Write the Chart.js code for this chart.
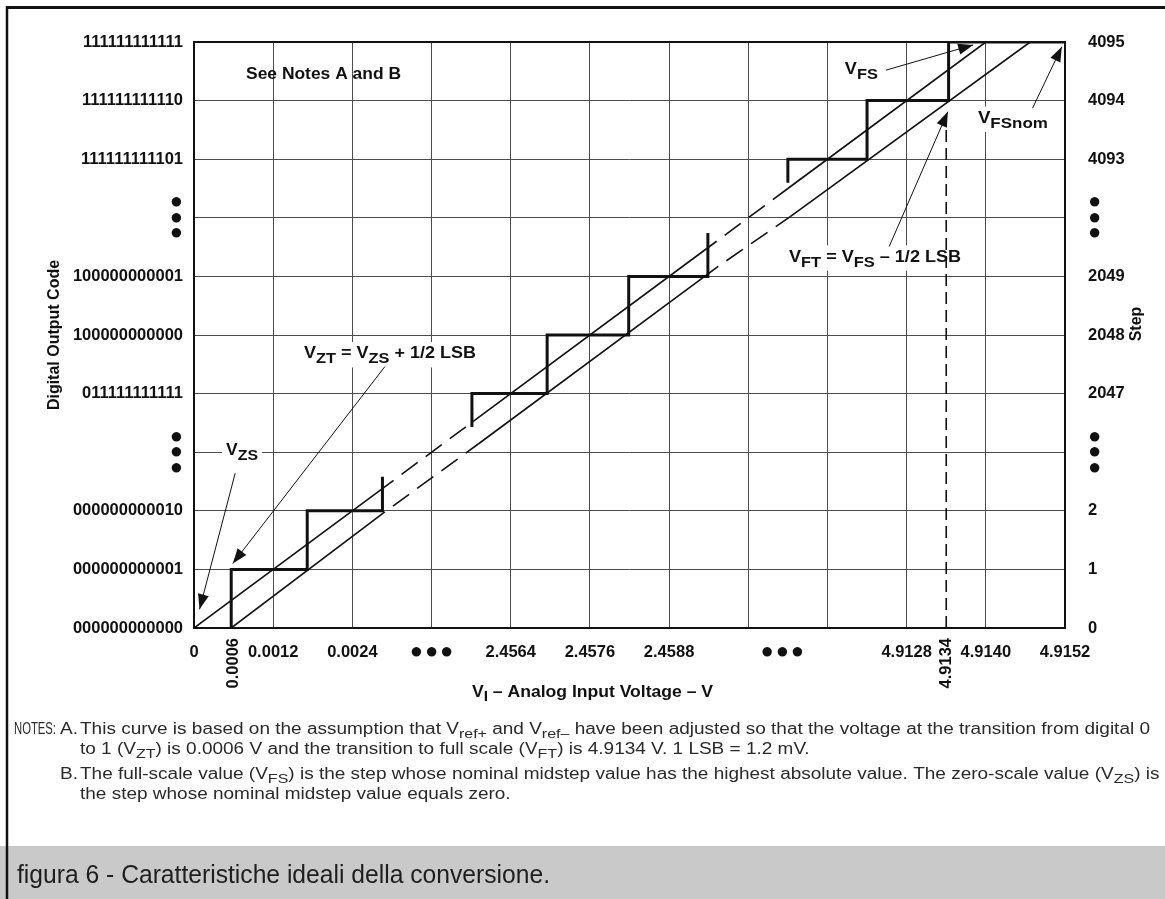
<!DOCTYPE html>
<html>
<head>
<meta charset="utf-8">
<script src="https://cdn.jsdelivr.net/npm/chart.js@4.4.1/dist/chart.umd.min.js"></script>
<style>
html,body{margin:0;padding:0;background:#fff;overflow:hidden}
#box{position:absolute;left:0;top:0;width:1165px;height:899px}
</style>
</head>
<body>
<div id="box"><canvas id="grafico"></canvas></div>
<script>
// tick labels
const dots = ['●','●','●'];
const codeLabels = ['000000000000','000000000001','000000000010',dots,'011111111111','100000000000','100000000001',dots,'111111111101','111111111110','111111111111'];
const stepLabels = ['0','1','2',dots,'2047','2048','2049',dots,'4093','4094','4095'];
const voltLabels = ['0','0.0012','0.0024','●\u200A●\u200A●','2.4564','2.4576','2.4588','','','4.9128','4.9140','4.9152'];
const voltRotLabels = ['0.0006','4.9134'];
const voltRotAt = [0.5, 9.5];

// staircase (grid units: 1 LSB across, 1 code up)
const stairLowX = [0.47,0.47,1.43,1.43,2.38,2.38];
const stairLowY = [0,1,1,2,2,2.58];
const stairMidX = [3.51,3.51,4.46,4.46,5.49,5.49,6.49,6.49];
const stairMidY = [3.43,4,4,5,5,6,6,6.74];
const stairTopX = [7.5,7.5,8.5,8.5,9.53,9.53,11];
const stairTopY = [7.6,8,8,9,9,10,10];

// ideal line and the line shifted by 1/2 LSB, 1 = dashed piece
const idealX = [0,2.52,3.5,6.6,7.5,10];
const idealY = [0,2.52,3.5,6.6,7.5,10];
const idealDash = [0,1,0,1,0];
const shiftX = [0.47,2.41,3.59,6.62,7.53,10.56];
const shiftY = [0,1.98,3.14,6.17,7.02,10];
const shiftDash = [0,1,0,1,0];

// VFT marker
const vftX = [9.5,9.5];
const vftY = [0,8.75];

const FAM = '"Liberation Sans", Arial, sans-serif';

function pts(xs, ys){
    let out = [];
    for(let i=0;i<xs.length;i++){ out.push({x:xs[i], y:ys[i]}); }
    return out;
}

// labels inside the plot: x,y in axis units (y = baseline)
const labels = [
    {x:0.657, y:9.377, parts:['See Notes A and B'], w:155, box:false},
    {x:8.22, y:9.45, parts:['V','FS'], w:33, box:true},
    {x:9.90, y:8.62, parts:['V','FSnom'], w:70, box:true},
    {x:7.515, y:6.25, parts:['V','FT',' = V','FS',' \u2013 1/2 LSB'], w:172, box:true},
    {x:1.389, y:4.60, parts:['V','ZT',' = V','ZS',' + 1/2 LSB'], w:172, box:true},
    {x:0.404, y:2.95, parts:['V','ZS'], w:32, box:true}
];
const arrows = [
    [8.74,9.52, 9.84,9.95],
    [10.59,8.87, 10.96,9.92],
    [8.78,6.51, 9.52,8.81],
    [2.41,4.46, 0.49,1.10],
    [0.52,2.64, 0.07,0.32]
];

function partsWidth(ctx, parts, o){
    let w = 0;
    parts.forEach(function(p,i){
        ctx.font = o.weight+' '+(i%2 ? o.sub : o.size)+'px '+o.fam;
        w += ctx.measureText(p).width;
    });
    return w;
}
function drawParts(ctx, x, y, parts, o, sx){
    ctx.save();
    ctx.translate(x, y);
    ctx.scale(sx || 1, 1);
    ctx.textAlign = 'left';
    ctx.textBaseline = 'alphabetic';
    let cx = 0;
    parts.forEach(function(p,i){
        ctx.font = o.weight+' '+(i%2 ? o.sub : o.size)+'px '+o.fam;
        ctx.fillText(p, cx, i%2 ? o.drop : 0);
        cx += ctx.measureText(p).width;
    });
    ctx.restore();
}
function fitParts(ctx, x, y, parts, o, w){
    drawParts(ctx, x, y, parts, o, w / partsWidth(ctx, parts, o));
}
function arrowHead(ctx, x0, y0, x1, y1){
    let a = Math.atan2(y1-y0, x1-x0);
    let L = 15, H = 5.5;
    ctx.beginPath();
    ctx.moveTo(x1, y1);
    ctx.lineTo(x1 - L*Math.cos(a) + H*Math.sin(a), y1 - L*Math.sin(a) - H*Math.cos(a));
    ctx.lineTo(x1 - L*Math.cos(a) - H*Math.sin(a), y1 - L*Math.sin(a) + H*Math.cos(a));
    ctx.closePath();
    ctx.fill();
}

const labelFont = {size:16.5, sub:15, drop:5, weight:'bold', fam:FAM};

const drawing = {
    id: 'drawing',
    beforeDraw(chart){
        const ctx = chart.ctx;
        ctx.save();
        ctx.fillStyle = '#fff';
        ctx.fillRect(0,0,chart.width,chart.height);
        ctx.fillStyle = '#c9c9c9';
        ctx.fillRect(0,846,chart.width,chart.height-846);
        ctx.restore();
    },
    beforeDatasetsDraw(chart){
        const ctx = chart.ctx, xs = chart.scales.x, ys = chart.scales.y, a = chart.chartArea;
        ctx.save();
        ctx.fillStyle = '#fff';
        labels.forEach(function(l){
            if(!l.box) return;
            let px = xs.getPixelForValue(l.x), py = ys.getPixelForValue(l.y);
            ctx.fillRect(px-4, py-labelFont.size*0.75-4, l.w+8, labelFont.size*0.75+labelFont.drop+8);
        });
        ctx.strokeStyle = '#111';
        ctx.lineWidth = 2;
        ctx.strokeRect(a.left, a.top, a.right-a.left, a.bottom-a.top);
        ctx.restore();
    },
    afterDraw(chart){
        const ctx = chart.ctx, xs = chart.scales.x, ys = chart.scales.y, a = chart.chartArea;
        ctx.save();
        ctx.fillStyle = '#111';
        ctx.strokeStyle = '#111';

        // arrows
        ctx.lineWidth = 1;
        arrows.forEach(function(r){
            let x0 = xs.getPixelForValue(r[0]), y0 = ys.getPixelForValue(r[1]);
            let x1 = xs.getPixelForValue(r[2]), y1 = ys.getPixelForValue(r[3]);
            ctx.beginPath(); ctx.moveTo(x0,y0); ctx.lineTo(x1,y1); ctx.stroke();
            arrowHead(ctx, x0, y0, x1, y1);
        });

        // labels
        labels.forEach(function(l){
            fitParts(ctx, xs.getPixelForValue(l.x), ys.getPixelForValue(l.y), l.parts, labelFont, l.w);
        });

        // rotated x ticks and the second row of dots
        ctx.font = 'bold 16.5px '+FAM;
        ctx.textBaseline = 'middle';
        voltRotLabels.forEach(function(t,i){
            ctx.save();
            ctx.translate(xs.getPixelForValue(voltRotAt[i]), a.bottom+10);
            ctx.rotate(-Math.PI/2);
            ctx.textAlign = 'right';
            ctx.fillText(t, 0, 0);
            ctx.restore();
        });
        ctx.font = 'bold 22px '+FAM;
        ctx.textAlign = 'center';
        ctx.fillText('●\u200A●\u200A●', xs.getPixelForValue(7.43), a.bottom+24);

        // axis titles
        const tf = {size:16, sub:14, drop:4, weight:'bold', fam:FAM};
        fitParts(ctx, 472, 697, ['V','I',' \u2013 Analog Input Voltage \u2013 V'], tf, 241);
        ctx.save();
        ctx.translate(1137, 324);
        ctx.rotate(-Math.PI/2);
        ctx.font = 'bold 16px '+FAM;
        ctx.textAlign = 'center';
        ctx.textBaseline = 'middle';
        ctx.fillText('Step', 0, 0);
        ctx.restore();

        // notes
        const nf = {size:16, sub:13.5, drop:4, weight:'normal', fam:FAM};
        const lines = [
            ['This curve is based on the assumption that V','ref+',' and V','ref\u2013',' have been adjusted so that the voltage at the transition from digital 0'],
            ['to 1 (V','ZT',') is 0.0006 V and the transition to full scale (V','FT',') is 4.9134 V. 1 LSB = 1.2 mV.'],
            ['The full-scale value (V','FS',') is the step whose nominal midstep value has the highest absolute value. The zero-scale value (V','ZS',') is'],
            ['the step whose nominal midstep value equals zero.']
        ];
        const base = [734, 754, 779, 799];
        ctx.fillStyle = '#2a2a2a';
        let nsx = 1070 / partsWidth(ctx, lines[0], nf);
        lines.forEach(function(l,i){ drawParts(ctx, 80, base[i], l, nf, nsx); });
        fitParts(ctx, 14, 734, ['NOTES:'], nf, 42);
        drawParts(ctx, 60, 734, ['A.'], nf, nsx);
        drawParts(ctx, 60, 779, ['B.'], nf, nsx);

        // caption
        const cf = {size:25, sub:20, drop:0, weight:'normal', fam:FAM};
        ctx.fillStyle = '#1e1e1e';
        fitParts(ctx, 17, 883, ['figura 6 - Caratteristiche ideali della conversione.'], cf, 533);

        // page frame
        ctx.strokeStyle = '#111';
        ctx.lineWidth = 3;
        ctx.beginPath(); ctx.moveTo(6,7.5); ctx.lineTo(chart.width,7.5); ctx.stroke();
        ctx.lineWidth = 2.5;
        ctx.beginPath(); ctx.moveTo(7,6); ctx.lineTo(7,chart.height); ctx.stroke();
        ctx.restore();
    }
};

Chart.defaults.font.family = FAM;
Chart.defaults.color = '#111';

const tickFont = {size:16.5, weight:'bold', lineHeight:1};
const dotFont = {size:22, weight:'bold', lineHeight:0.7};
function pickFont(list){
    return function(c){ return Array.isArray(list[c.index]) || String(list[c.index]).indexOf('●') >= 0 ? dotFont : tickFont; };
}

const ctx = document.getElementById('grafico').getContext('2d');
const chart = new Chart(ctx, {
    type: 'scatter',
    data: {
        datasets: [
            {data: pts(stairLowX, stairLowY), showLine:true, borderColor:'#111', borderWidth:3, pointRadius:0},
            {data: pts(stairMidX, stairMidY), showLine:true, borderColor:'#111', borderWidth:3, pointRadius:0},
            {data: pts(stairTopX, stairTopY), showLine:true, borderColor:'#111', borderWidth:3, pointRadius:0},
            {data: pts(idealX, idealY), showLine:true, borderColor:'#111', borderWidth:1.6, pointRadius:0,
             segment:{borderDash: c => idealDash[c.p0DataIndex] ? [20,10] : undefined,
                      borderDashOffset: c => idealDash[c.p0DataIndex] ? 20 : undefined}},
            {data: pts(shiftX, shiftY), showLine:true, borderColor:'#111', borderWidth:1.6, pointRadius:0,
             segment:{borderDash: c => shiftDash[c.p0DataIndex] ? [20,10] : undefined,
                      borderDashOffset: c => shiftDash[c.p0DataIndex] ? 20 : undefined}},
            {data: pts(vftX, vftY), showLine:true, borderColor:'#111', borderWidth:1.6, pointRadius:0, borderDash:[12,6]}
        ]
    },
    options: {
        animation: false,
        responsive: true,
        maintainAspectRatio: false,
        devicePixelRatio: 1,
        events: [],
        layout: {padding: {left:45, right:18, top:42, bottom:189}},
        plugins: {legend:{display:false}, tooltip:{enabled:false}},
        scales: {
            x: {
                type:'linear', min:0, max:11, position:'bottom',
                ticks:{stepSize:1, autoSkip:false, maxRotation:0, padding:16, font:pickFont(voltLabels), color:'#111',
                       callback: v => voltLabels[v]},
                grid:{color:'#4d4d4d', lineWidth:1, drawTicks:false},
                border:{display:false},
                afterFit: s => { s.height = 82; }
            },
            y: {
                min:0, max:10, position:'left',
                ticks:{stepSize:1, autoSkip:false, padding:11, font:pickFont(codeLabels), color:'#111',
                       callback: v => codeLabels[v]},
                grid:{color:'#4d4d4d', lineWidth:1, drawTicks:false},
                border:{display:false},
                title:{display:true, text:'Digital Output Code', font:{size:16, weight:'bold'}, padding:0, color:'#111'},
                afterFit: s => { s.width = 194 - 45; }
            },
            y2: {
                min:0, max:10, position:'right',
                ticks:{stepSize:1, autoSkip:false, padding:15, font:pickFont(stepLabels), color:'#111',
                       callback: v => stepLabels[v]},
                grid:{display:false},
                border:{display:false},
                afterFit: s => { s.width = 1165 - 18 - 1065; }
            }
        }
    },
    plugins: [drawing]
});
</script>
</body>
</html>
